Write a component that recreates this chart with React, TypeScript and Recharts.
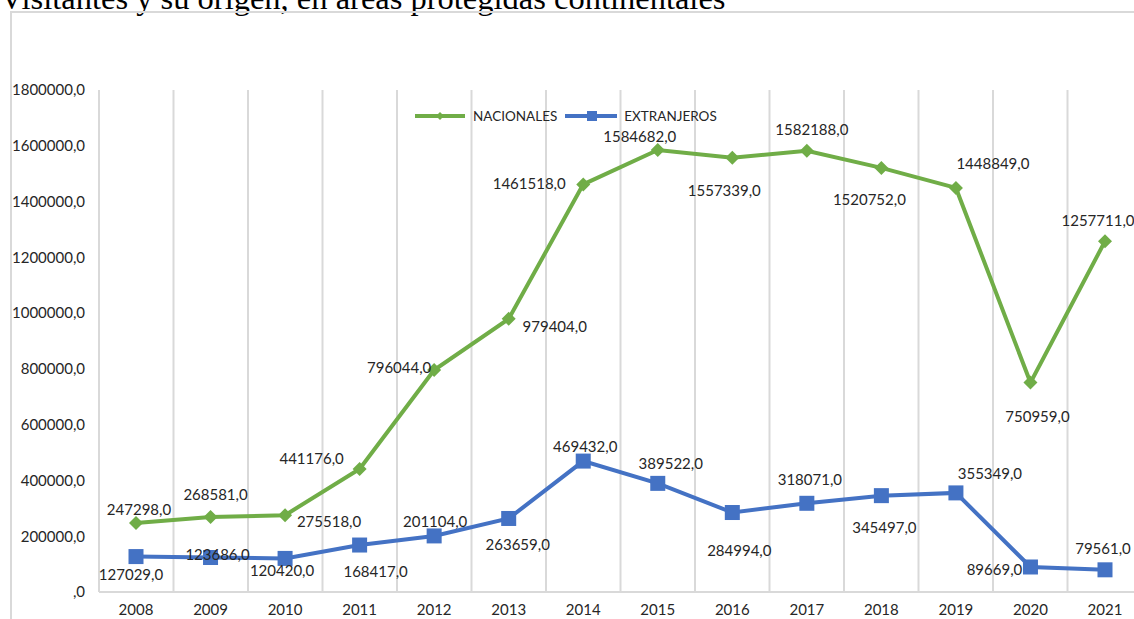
import React from "react";
import {
  CartesianGrid,
  ComposedChart,
  LabelList,
  Line,
  XAxis,
  YAxis,
} from "recharts";

const years = [
  "2008", "2009", "2010", "2011", "2012", "2013", "2014",
  "2015", "2016", "2017", "2018", "2019", "2020", "2021",
];

const nacionales = [
  247298, 268581, 275518, 441176, 796044, 979404, 1461518,
  1584682, 1557339, 1582188, 1520752, 1448849, 750959, 1257711,
];

const extranjeros = [
  127029, 123686, 120420, 168417, 201104, 263659, 469432,
  389522, 284994, 318071, 345497, 355349, 89669, 79561,
];

const yTicks = [0, 200000, 400000, 600000, 800000, 1000000, 1200000, 1400000, 1600000, 1800000];

// where each data label sits relative to its point, as in the original
const nacLabelOffsets = [
  [3, -14], [5, -23], [44, 6], [-48, -11], [-35, -3], [46, 7], [-54, -1],
  [-18, -14], [-8, 32], [5, -22], [-12, 31], [37, -25], [7, 33], [-7, -21],
];
const extLabelOffsets = [
  [-5, 17], [7, -4], [-3, 12], [16, 26], [1, -15], [9, 26], [2, -15],
  [13, -20], [7, 37], [3, -24], [3, 31], [34, -20], [-36, 2], [-2, -22],
];

const GREEN = "#70AD47";
const BLUE = "#4472C4";
const FONT = "Lato, 'Noto Sans', sans-serif";

const data = years.map((year, i) => ({
  year,
  nacionales: nacionales[i],
  extranjeros: extranjeros[i],
}));

const fmt = (v: number) => (v === 0 ? ",0" : `${v},0`);

const Diamond = (props: any) => {
  const { cx, cy } = props;
  if (cx == null || cy == null) return null;
  const r = 7;
  return (
    <path
      d={`M${cx},${cy - r}L${cx + r},${cy}L${cx},${cy + r}L${cx - r},${cy}Z`}
      fill={GREEN}
    />
  );
};

const Square = (props: any) => {
  const { cx, cy } = props;
  if (cx == null || cy == null) return null;
  const s = 15;
  return <rect x={cx - s / 2} y={cy - s / 2} width={s} height={s} fill={BLUE} />;
};

const makeLabel = (offsets: number[][]) => (props: any) => {
  const { x, y, value, index } = props;
  const [dx, dy] = offsets[index] || [0, -15];
  return (
    <text
      x={x + dx}
      y={y + dy}
      textAnchor="middle"
      dominantBaseline="central"
      fontSize={15}
      fontFamily={FONT}
      fill="#262626"
    >
      {fmt(value)}
    </text>
  );
};

export default function App() {
  return (
    <div
      style={{
        position: "relative",
        width: 1134,
        height: 619,
        overflow: "hidden",
        background: "#fff",
      }}
    >
      <style>{`body{margin:0}`}</style>
      <div
        style={{
          position: "absolute",
          left: 0,
          top: -18,
          fontFamily: "'Liberation Serif', 'Times New Roman', serif",
          fontSize: 32.5,
          lineHeight: "32px",
          whiteSpace: "nowrap",
          color: "#000",
        }}
      >
        Visitantes y su origen, en áreas protegidas continentales
      </div>
      <div
        style={{
          position: "absolute",
          left: 10,
          top: 11,
          width: 1200,
          height: 700,
          border: "2px solid #d9d9d9",
        }}
      />
      <div style={{ position: "absolute", left: 0, top: 0 }}>
        <ComposedChart
          width={1180}
          height={640}
          data={data}
          margin={{ top: 90, right: 38, left: 0, bottom: 18 }}
        >
          <CartesianGrid
            horizontal={false}
            stroke="#d9d9d9"
            strokeWidth={2}
            verticalCoordinatesGenerator={({ offset }: any) =>
              years
                .concat([""])
                .map((_, i) => offset.left + (i * offset.width) / years.length)
            }
          />
          <XAxis
            dataKey="year"
            padding={{ left: 37, right: 37 }}
            tickLine={false}
            axisLine={{ stroke: "#d9d9d9", strokeWidth: 2 }}
            tickSize={0}
            tickMargin={12}
            height={30}
            interval={0}
            tick={{ fontSize: 15, fontFamily: FONT, fill: "#262626" }}
          />
          <YAxis
            width={99}
            domain={[0, 1800000]}
            ticks={yTicks}
            tickFormatter={fmt}
            axisLine={false}
            tickLine={false}
            tickSize={0}
            tickMargin={14}
            interval={0}
            tick={{ fontSize: 15, fontFamily: FONT, fill: "#262626" }}
          />
          <Line
            type="linear"
            dataKey="nacionales"
            stroke={GREEN}
            strokeWidth={4}
            dot={<Diamond />}
            activeDot={false}
            isAnimationActive={false}
          >
            <LabelList dataKey="nacionales" content={makeLabel(nacLabelOffsets)} />
          </Line>
          <Line
            type="linear"
            dataKey="extranjeros"
            stroke={BLUE}
            strokeWidth={4}
            dot={<Square />}
            activeDot={false}
            isAnimationActive={false}
          >
            <LabelList dataKey="extranjeros" content={makeLabel(extLabelOffsets)} />
          </Line>
        </ComposedChart>
      </div>
      <div
        style={{
          position: "absolute",
          left: 415,
          top: 106,
          height: 20,
          display: "flex",
          alignItems: "center",
          fontFamily: FONT,
          fontSize: 13.5,
          color: "#262626",
          whiteSpace: "nowrap",
        }}
      >
        <svg width={52} height={20} style={{ display: "block" }}>
          <line x1={0} y1={10} x2={50} y2={10} stroke={GREEN} strokeWidth={4} />
          <path d="M25,6L29,10L25,14L21,10Z" fill={GREEN} />
        </svg>
        <span style={{ marginLeft: 6 }}>NACIONALES</span>
        <svg width={54} height={20} style={{ display: "block", marginLeft: 8 }}>
          <line x1={0} y1={10} x2={52} y2={10} stroke={BLUE} strokeWidth={4} />
          <rect x={22} y={5} width={10} height={10} fill={BLUE} />
        </svg>
        <span style={{ marginLeft: 5 }}>EXTRANJEROS</span>
      </div>
    </div>
  );
}
